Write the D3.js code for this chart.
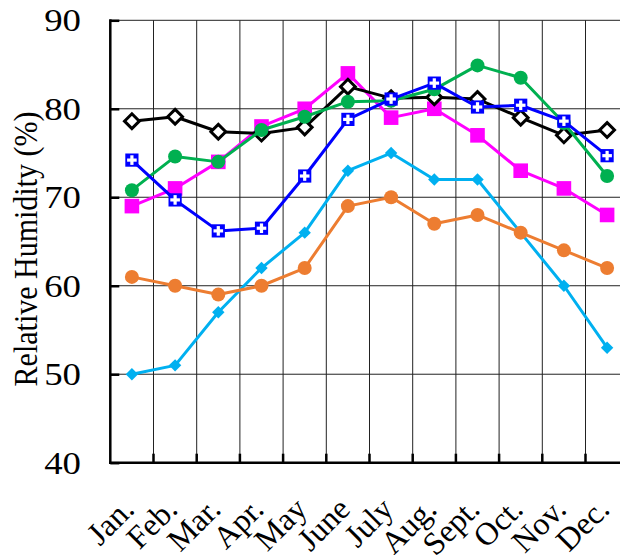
<!DOCTYPE html>
<html>
<head>
<meta charset="utf-8">
<script src="https://cdn.jsdelivr.net/npm/d3@7"></script>
<style>
  html, body { margin: 0; padding: 0; background: #fff; }
  svg { display: block; }
  text { font-family: "Liberation Serif", "Times New Roman", serif; fill: #000; }
</style>
</head>
<body>
<svg id="chart" width="620" height="555"></svg>
<script>
// Monthly mean relative humidity (%) for six stations
const months = ["Jan.", "Feb.", "Mar.", "Apr.", "May", "June", "July", "Aug.", "Sept.", "Oct.", "Nov.", "Dec."];
const yTicks = [40, 50, 60, 70, 80, 90];

const stationBlack   = [78.6, 79.1, 77.4, 77.2, 77.9, 82.5, 81.2, 81.3, 81.1, 79.0, 77.0, 77.6];
const stationBlue    = [74.2, 69.7, 66.2, 66.5, 72.4, 78.8, 81.1, 82.9, 80.2, 80.4, 78.6, 74.7];
const stationGreen   = [70.8, 74.6, 74.0, 77.6, 79.1, 80.8, 80.9, 82.2, 84.9, 83.5, 78.4, 72.4];
const stationMagenta = [69, 71, 74, 78, 80, 84, 79, 80, 77, 73, 71, 68];
const stationOrange  = [61, 60, 59, 60, 62, 69, 70, 67, 68, 66, 64, 62];
const stationCyan    = [50, 51, 57, 62, 66, 73, 75, 72, 72, 66, 60, 53];

const svg = d3.select("#chart");

const plotLeft = 110.3, plotTop = 20.3, plotBottom = 462.7, step = 43.2;
// axis numbers and title are drawn slightly widened horizontally
const textStretch = 1.15;

const x = d3.scaleBand()
  .domain(months)
  .range([plotLeft, plotLeft + step * months.length])
  .paddingInner(0).paddingOuter(0);

const y = d3.scaleLinear().domain([40, 90]).range([plotBottom, plotTop]);

const cx = m => x(m) + x.bandwidth() / 2;

// Grid
const grid = svg.append("g");
grid.selectAll("line.h")
  .data(yTicks.slice(1))
  .join("line")
  .attr("x1", plotLeft).attr("x2", 620)
  .attr("y1", d => y(d)).attr("y2", d => y(d))
  .attr("stroke", "#222").attr("stroke-width", 1);
grid.selectAll("line.v")
  .data(months.slice(1))
  .join("line")
  .attr("x1", d => x(d)).attr("x2", d => x(d))
  .attr("y1", plotTop).attr("y2", plotBottom)
  .attr("stroke", "#222").attr("stroke-width", 1);

// Axes with inward ticks
const yAxis = d3.axisRight(y).tickValues(yTicks).tickSize(9).tickFormat("");
const gy = svg.append("g").attr("transform", `translate(${plotLeft},0)`).call(yAxis);
gy.select(".domain").remove();
gy.selectAll(".tick line").attr("stroke", "#000").attr("stroke-width", 2.5);

const xAxis = d3.axisTop(x).tickValues(months.slice(1)).tickSize(9).tickFormat("");
const gx = svg.append("g").attr("transform", `translate(0,${plotBottom})`).call(xAxis);
gx.select(".domain").remove();
gx.selectAll(".tick line")
  .attr("transform", `translate(${-x.bandwidth() / 2},0)`)
  .attr("stroke", "#000").attr("stroke-width", 2.5);

svg.append("line").attr("x1", plotLeft).attr("x2", plotLeft).attr("y1", plotTop - 1).attr("y2", plotBottom + 1.2)
  .attr("stroke", "#000").attr("stroke-width", 2.5);
svg.append("line").attr("x1", plotLeft - 1.2).attr("x2", 620).attr("y1", plotBottom).attr("y2", plotBottom)
  .attr("stroke", "#000").attr("stroke-width", 2.5);

// Y tick labels
svg.append("g").selectAll("text")
  .data(yTicks)
  .join("text")
  .attr("transform", d => `translate(81,${y(d)}) scale(${textStretch},1)`)
  .attr("dy", "0.34em")
  .attr("text-anchor", "end")
  .attr("font-size", 32)
  .text(d => d);

// Y title
svg.append("text")
  .attr("transform", `translate(37,249) scale(${textStretch},1) rotate(-90)`)
  .attr("text-anchor", "middle")
  .attr("font-size", 30)
  .text("Relative Humidity (%)");

// Month labels, rotated 45 degrees
svg.append("g").selectAll("text")
  .data(months)
  .join("text")
  .attr("transform", d => `translate(${cx(d) + 4},511) rotate(-45)`)
  .attr("text-anchor", "end")
  .attr("font-size", 32)
  .text(d => d);

// Series
const line = d3.line().x((d, i) => cx(months[i])).y(d => y(d));

function drawSeries(values, color, marker) {
  const g = svg.append("g");
  g.append("path").datum(values)
    .attr("d", line)
    .attr("fill", "none")
    .attr("stroke", color)
    .attr("stroke-width", 3)
    .attr("stroke-linejoin", "round");
  const pts = g.selectAll("g.pt").data(values).join("g")
    .attr("transform", (d, i) => `translate(${cx(months[i])},${y(d)})`);
  marker(pts, color);
}

const diamondPath = r => `M0,${-r}L${r},0L0,${r}L${-r},0Z`;

const filledDiamond = r => (sel, color) =>
  sel.append("path").attr("d", diamondPath(r)).attr("fill", color);

const openDiamond = (sel, color) =>
  sel.append("path").attr("d", diamondPath(7.4)).attr("fill", "#fff")
    .attr("stroke", color).attr("stroke-width", 3).attr("stroke-linejoin", "miter");

const circle = (sel, color) =>
  sel.append("circle").attr("r", 7).attr("fill", color);

const square = (sel, color) =>
  sel.append("rect").attr("x", -7.3).attr("y", -7.3).attr("width", 14.6).attr("height", 14.6).attr("fill", color);

const plusSquare = (sel, color) => {
  sel.append("rect").attr("x", -6.6).attr("y", -6.6).attr("width", 13.2).attr("height", 13.2).attr("fill", color);
  sel.append("rect").attr("x", -1.6).attr("y", -4.8).attr("width", 3.2).attr("height", 9.6).attr("fill", "#fff");
  sel.append("rect").attr("x", -4.8).attr("y", -1.6).attr("width", 9.6).attr("height", 3.2).attr("fill", "#fff");
};

drawSeries(stationCyan, "#00b0f0", filledDiamond(6.2));
drawSeries(stationOrange, "#ed7d31", circle);
drawSeries(stationMagenta, "#ff00ff", square);
drawSeries(stationBlack, "#000000", openDiamond);
drawSeries(stationGreen, "#00b050", circle);
drawSeries(stationBlue, "#0000ff", plusSquare);
</script>
</body>
</html>
